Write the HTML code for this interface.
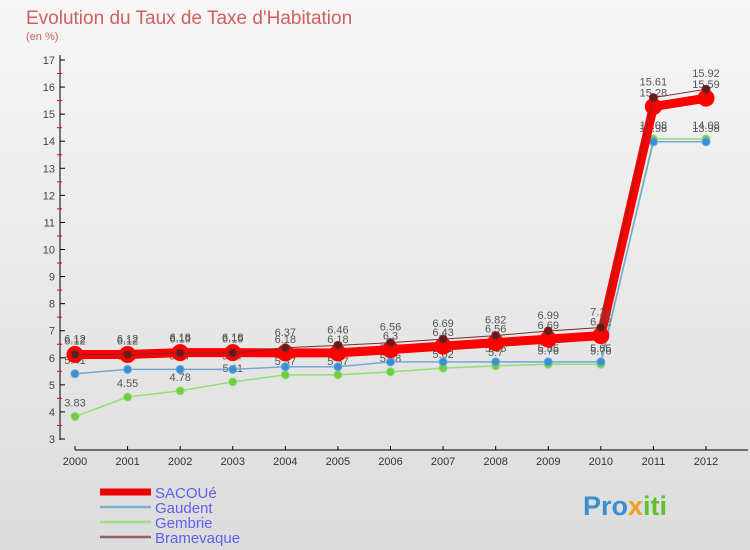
<!DOCTYPE html>
<html><head><meta charset="utf-8"><style>
body{margin:0;width:750px;height:550px;overflow:hidden;font-family:"Liberation Sans",sans-serif;}
#bg{position:absolute;left:0;top:0;width:750px;height:550px;background:linear-gradient(#f6f6f6,#dcdcdc);}
</style></head><body>
<div id="bg"></div>
<svg id="c" width="750" height="550" style="position:absolute;left:0;top:0">
<text x="26" y="24" font-size="19" fill="#d06060">Evolution du Taux de Taxe d'Habitation</text>
<text x="26" y="40" font-size="11" fill="#d06060">(en %)</text>
<g id="axes"></g><g id="series"></g><g id="legend"></g>
<text x="583" y="515" font-size="27" font-weight="bold" fill="#3a8fd0">Pro<tspan fill="#f0a020">x</tspan><tspan fill="#60c030">iti</tspan></text>
</svg>
<script>
const years=[2000,2001,2002,2003,2004,2005,2006,2007,2008,2009,2010,2011,2012];
const yTicks=[3,4,5,6,7,8,9,10,11,12,13,14,15,16,17];
const sacoue=[6.12,6.12,6.19,6.19,6.18,6.18,6.3,6.43,6.56,6.69,6.82,15.28,15.59];
const gaudent=[5.41,5.57,5.57,5.57,5.67,5.67,5.85,5.85,5.85,5.85,5.85,13.98,13.98];
const gembrie=[3.83,4.55,4.78,5.11,5.37,5.37,5.48,5.62,5.7,5.76,5.76,14.08,14.08];
const bramevaque=[6.12,6.12,6.18,6.18,6.37,6.46,6.56,6.69,6.82,6.99,7.12,15.61,15.92];
const NS="http://www.w3.org/2000/svg";
function X(i){return 75+i*(706-75)/12;}
function Y(v){return 439-(v-3)*(439-60)/14;}
function mk(t,a,p){const e=document.createElementNS(NS,t);for(const k in a)e.setAttribute(k,a[k]);p.appendChild(e);return e;}
const ax=document.getElementById('axes');
const yl=mk('line',{x1:60,y1:55,x2:60,y2:440,stroke:'#000'},ax);


const xl=mk('line',{x1:75,y1:450,x2:748,y2:450,stroke:'#000'},ax);


yTicks.forEach(v=>{
  mk('line',{x1:60,y1:Y(v),x2:65,y2:Y(v),stroke:'#000'},ax);
  if(v<17)mk('line',{x1:57,y1:Y(v+0.5),x2:62,y2:Y(v+0.5),stroke:'#e00'},ax);
  const t=mk('text',{x:55,y:Y(v)+4,'font-size':11,'text-anchor':'end',fill:'#444'},ax);t.textContent=v;
  
  
});
years.forEach((y,i)=>{
  mk('line',{x1:X(i),y1:446,x2:X(i),y2:450,stroke:'#000'},ax);
  const t=mk('text',{x:X(i),y:465,'font-size':11,'text-anchor':'middle',fill:'#333'},ax);t.textContent=y;
  
  
});
const sg=document.getElementById('series');
function series(name,data,color,w,r,mc,dy){
  const g=mk('g',{},sg);
  
  
  mk('polyline',{points:data.map((v,i)=>X(i)+','+Y(v)).join(' '),fill:'none',stroke:color,'stroke-width':w},g);
  data.forEach((v,i)=>{
    const c=mk('circle',{cx:X(i),cy:Y(v),r:r,fill:mc,stroke:color,'stroke-width':1},g);
    
    
    const t=mk('text',{x:X(i),y:Y(v)+dy,'font-size':11,'text-anchor':'middle',fill:'#555'},g);t.textContent=v;
    
    
  });
}
series('gembrie',gembrie,'#90e070',1.5,4,'#70cc40',-10);
series('gaudent',gaudent,'#70a8d8',1.5,4,'#3a8fd0',-10);
series('sacoue',sacoue,'#ff0000',9,8,'#ff0000',-10);
series('bramevaque',bramevaque,'#7a2a2a',1,4,'#6a1818',-12);
const lg=document.getElementById('legend');
[['SACOUé','#ee0000',7],['Gaudent','#80b0d0',2.5],['Gembrie','#a0e080',2.5],['Bramevaque','#986060',2.5]].forEach((d,i)=>{
  const y=492+i*15;
  const g=mk('g',{},lg);
  
  
  mk('line',{x1:100,y1:y,x2:151,y2:y,stroke:d[1],'stroke-width':d[2]},g);
  const t=mk('text',{x:155,y:y+6,'font-size':15,fill:'#6060f0'},g);t.textContent=d[0];
});
</script>
</body></html>
